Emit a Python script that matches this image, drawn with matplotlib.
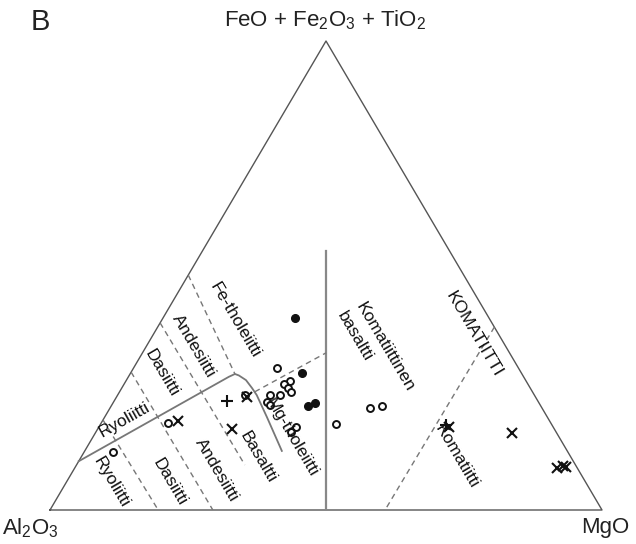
import matplotlib
matplotlib.use('Agg')
import matplotlib.pyplot as plt
import numpy as np

plt.rcParams['font.family'] = ['Liberation Sans', 'DejaVu Sans']
plt.rcParams['mathtext.default'] = 'regular'

# compositions in % : Fe = FeO+Fe2O3+TiO2, Mg = MgO, Al2O3 is the rest
filled_fe = [40.9, 29.2, 22.8, 22.2]
filled_mg = [23.9, 31.1, 36.6, 35.6]

open_fe = [30.3, 27.5, 26.9, 26.0, 25.2, 24.5, 24.5, 23.0, 22.4, 17.7, 16.6,
           18.3, 21.7, 22.2, 24.5, 18.6, 12.4]
open_mg = [26.0, 29.7, 29.0, 30.1, 31.1, 29.4, 27.6, 27.8, 28.6, 35.7, 35.4,
           42.7, 47.1, 49.0, 23.1, 12.1, 5.2]

cross_fe = [17.3, 24.1, 19.0, 17.7, 16.4, 9.0, 9.4, 9.2]
cross_mg = [24.3, 23.6, 13.7, 63.4, 75.5, 87.3, 88.2, 88.9]

plus_fe = [23.2, 18.1]
plus_mg = [20.5, 62.7]

# field boundaries (Fe, Mg)
main_line = [(10.4, 0.0), (28.4, 18.2), (29.0, 19.0), (28.7, 19.85),
             (27.7, 21.65), (26.0, 23.6), (24.5, 25.2), (19.8, 29.4),
             (12.6, 35.7)]
vert_line = [(0.0, 50.0), (55.2, 22.4)]
dashed_lines = [
    [(19.2, 0.0), (0.0, 19.6)],
    [(29.4, 0.0), (0.0, 29.5)],
    [(39.9, 0.0), (9.6, 30.5)],
    [(50.1, 0.0), (29.0, 19.0)],
    [(25.2, 24.5), (33.5, 33.25)],
    [(39.0, 61.0), (0.0, 60.7)],
]

# field labels: text, Fe, Mg, angle
labels = [
    ('Fe-tholeiitti', 40.5, 13.3, -59.5),
    ('Andesiitti', 35.0, 8.6, -59.5),
    ('Dasiitti', 29.2, 5.7, -59.5),
    ('Ryoliitti', 19.2, 3.8, 29.3),
    ('Ryoliitti', 6.0, 8.1, -59.5),
    ('Dasiitti', 6.0, 18.6, -59.5),
    ('Andesiitti', 8.5, 26.0, -59.5),
    ('Basaltti', 11.3, 32.0, -59.5),
    ('Mg-tholeiitti', 15.4, 36.0, -59.5),
    ('Komatiittinen', 34.8, 43.3, -59.5),
    ('basaltti', 37.1, 36.7, -59.5),
    ('KOMATIITTI', 37.5, 58.0, -59.5),
    ('Komatiitti', 11.5, 68.0, -59.5),
]


def xy(fe, mg):
    fe = np.asarray(fe, float)
    mg = np.asarray(mg, float)
    return mg + fe / 2, fe * np.sqrt(3) / 2


fig = plt.figure(figsize=(6.36, 5.44), dpi=100)
ax = fig.add_axes([50 / 636, 34 / 544, 552 / 636, 469 / 544])
ax.set_xlim(0, 100)
ax.set_ylim(0, 100 * np.sqrt(3) / 2)
ax.axis('off')

# triangle
tx, ty = xy([0, 0, 100, 0], [0, 100, 0, 0])
ax.plot(tx, ty, color='#555555', lw=1.0, clip_on=False)

x, y = xy(*zip(*main_line))
ax.plot(x, y, color='#777777', lw=1.3, solid_joinstyle='round')
x, y = xy(*zip(*vert_line))
ax.plot(x, y, color='#888888', lw=1.6)
for seg in dashed_lines:
    x, y = xy(*zip(*seg))
    ax.plot(x, y, color='#777777', lw=1.0, ls=(0, (4, 3)))

for txt, fe, mg, ang in labels:
    x, y = xy(fe, mg)
    ax.text(x, y, txt, rotation=ang, rotation_mode='anchor', ha='center',
            va='center', fontsize=12.5, color='#111111')

x, y = xy(open_fe, open_mg)
ax.plot(x, y, 'o', ms=5, mfc='white', mec='#111111', mew=1.4, ls='none')
x, y = xy(filled_fe, filled_mg)
ax.plot(x, y, 'o', ms=5.5, color='#111111', ls='none')
x, y = xy(cross_fe, cross_mg)
ax.plot(x, y, 'x', ms=7, color='#111111', mew=1.5, ls='none')
x, y = xy(plus_fe, plus_mg)
ax.plot(x, y, '+', ms=9, color='#111111', mew=1.5, ls='none')

fig.text(325 / 636, 1 - 20 / 544, 'FeO + Fe$_2$O$_3$ + TiO$_2$', ha='center',
         va='center', fontsize=16, color='#222222')
fig.text(40 / 636, 1 - 22 / 544, 'B', ha='center', va='center', fontsize=21,
         color='#222222')
fig.text(30 / 636, 1 - 528 / 544, 'Al$_2$O$_3$', ha='center', va='center',
         fontsize=16, color='#222222')
fig.text(605 / 636, 1 - 528 / 544, 'MgO', ha='center', va='center',
         fontsize=16, color='#222222')

fig.savefig('out.png', dpi=100)
